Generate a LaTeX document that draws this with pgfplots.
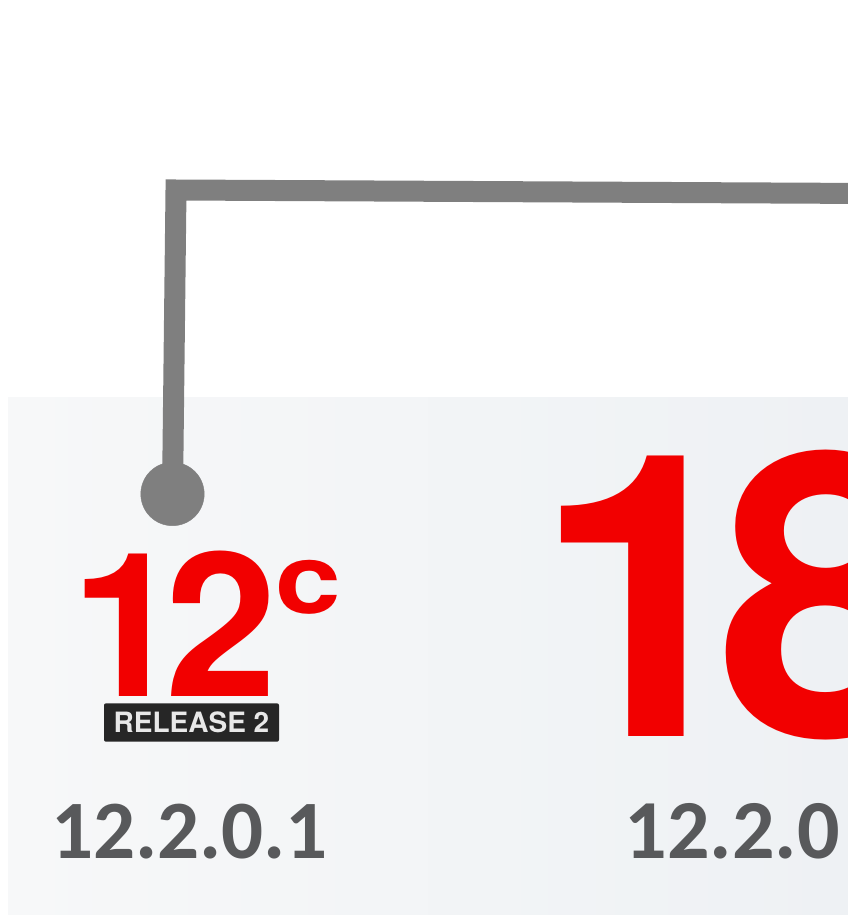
\documentclass[border=0pt]{standalone}
\usepackage{pgfplots}
\pgfplotsset{compat=1.18}
\usepackage{fontspec}
\setmainfont{Liberation Sans}
\newfontfamily\arialb{TeX Gyre Heros}
\newfontfamily\calib{Carlito}
\definecolor{lred}{RGB}{242,0,0}
\definecolor{lgray}{RGB}{127,127,127}
\definecolor{tgray}{RGB}{88,89,91}
\definecolor{badge}{RGB}{38,38,38}
\definecolor{btext}{RGB}{232,232,232}
\definecolor{panL}{RGB}{247,248,249}
\definecolor{panR}{RGB}{238,241,244}
\begin{document}
\begin{tikzpicture}
\begin{axis}[
  scale only axis, width=848pt, height=915pt,
  xmin=0, xmax=848, ymin=0, ymax=915, y dir=reverse,
  hide axis, clip=true,
]
% background panel
\fill[left color=panL, right color=panR] (axis cs:8,397) rectangle (axis cs:848,915);
% connector
\addplot[draw=lgray, line width=21pt, line join=miter, line cap=butt]
  coordinates {(172.5,494) (176,190) (870,193.5)};
\addplot[only marks, mark=*, mark size=31.7pt, color=lgray, mark options={fill=lgray, draw=lgray}]
  coordinates {(172.5,494)};
% 12c logo
\node[anchor=base west, inner sep=0pt, text=lred, font={\arialb\bfseries\fontsize{201}{201}\selectfont}]
  at (axis cs:71.7,696) {1\kern-0.09em 2};
\node[anchor=base west, inner sep=0pt, text=lred, font={\arialb\bfseries\fontsize{97}{97}\selectfont}]
  at (axis cs:275.5,613.5) {\scalebox{1.22}[1]{c}};
\node[fill=badge, rounded corners=2pt, minimum width=175pt, minimum height=38.4pt, inner sep=0pt,
  text=btext, font={\arialb\bfseries\fontsize{28}{28}\selectfont}]
  at (axis cs:191.5,722.5) {RELEASE 2};
\node[anchor=base, inner sep=0pt, text=tgray, font={\calib\bfseries\fontsize{83}{83}\selectfont}]
  at (axis cs:189.5,858) {12.2.0.1};
% 18
\node[anchor=base west, inner sep=0pt, text=lred, font={\arialb\bfseries\fontsize{395.7}{395.7}\selectfont}]
  at (axis cs:534.4,736) {1\kern-0.095em 8};
\node[anchor=base west, inner sep=0pt, text=tgray, font={\calib\bfseries\fontsize{84}{84}\selectfont}]
  at (axis cs:624.5,858) {12.2.0};
\end{axis}
\pgfresetboundingbox
\path[use as bounding box] (0,0) rectangle (848pt,915pt);
\end{tikzpicture}
\end{document}
